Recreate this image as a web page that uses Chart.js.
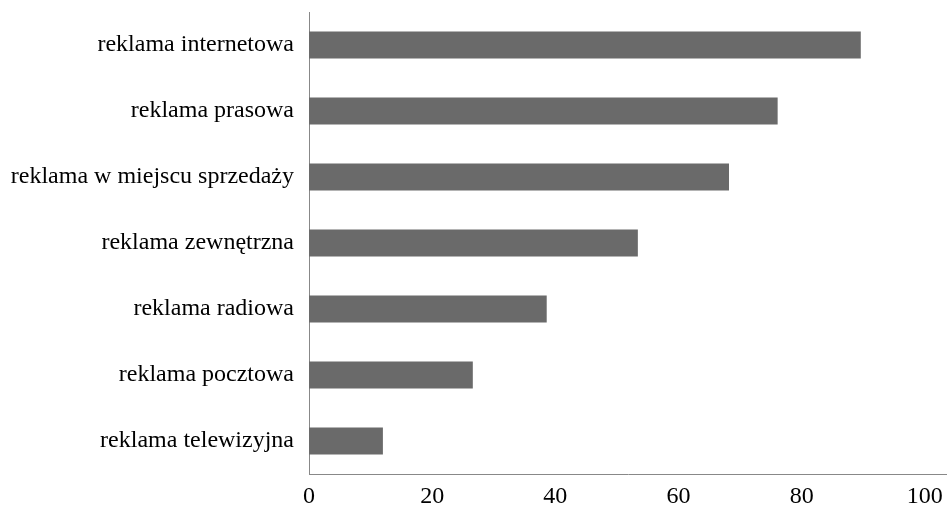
<!DOCTYPE html>
<html>
<head>
<meta charset="utf-8">
<script src="https://cdn.jsdelivr.net/npm/chart.js@4.4.1/dist/chart.umd.min.js"></script>
<style>
  html, body { margin: 0; padding: 0; background: #fff; }
  #wrap { width: 947px; height: 505px; }
</style>
</head>
<body>
<div id="wrap"><canvas id="adsChart"></canvas></div>
<script>
// Categories (top to bottom) and values
const categories = [
  'reklama internetowa',
  'reklama prasowa',
  'reklama w miejscu sprzedaży',
  'reklama zewnętrzna',
  'reklama radiowa',
  'reklama pocztowa',
  'reklama telewizyjna'
];
const values = [89.6, 76.1, 68.2, 53.4, 38.6, 26.6, 12.0];
const xTicks = [0, 20, 40, 60, 80, 100];

const FONT = { family: '"Liberation Serif", "Times New Roman", serif', size: 24 };

document.addEventListener('DOMContentLoaded', function() {
  const ctx = document.getElementById('adsChart');

  new Chart(ctx, {
    type: 'bar',
    data: {
      labels: categories,
      datasets: [{
        data: values,
        backgroundColor: '#6a6a6a',
        borderWidth: 0,
        categoryPercentage: 1,
        barPercentage: 0.41
      }]
    },
    options: {
      indexAxis: 'y',
      responsive: true,
      maintainAspectRatio: false,
      animation: false,
      layout: { padding: { top: 12, right: 0, left: 0, bottom: 0 } },
      plugins: {
        legend: { display: false },
        tooltip: { enabled: false }
      },
      scales: {
        x: {
          min: 0,
          max: 103.6,
          grid: { display: false, drawTicks: false },
          border: { display: true, color: '#888888', width: 1 },
          ticks: {
            stepSize: 20,
            padding: 8,
            color: '#000',
            font: FONT,
            maxRotation: 0
          },
          afterBuildTicks: function(scale) {
            scale.ticks = xTicks.map(v => ({ value: v }));
          },
          afterFit: function(scale) {
            scale.height = 31;
            scale.paddingLeft = 0;
            scale.paddingRight = 0;
          }
        },
        y: {
          grid: { display: false, drawTicks: false },
          border: { display: true, color: '#888888', width: 1 },
          ticks: {
            padding: 15,
            color: '#000',
            font: FONT
          },
          afterFit: function(scale) {
            scale.width = 309;
            scale.paddingTop = 0;
            scale.paddingBottom = 0;
          }
        }
      }
    }
  });
});
</script>
</body>
</html>
